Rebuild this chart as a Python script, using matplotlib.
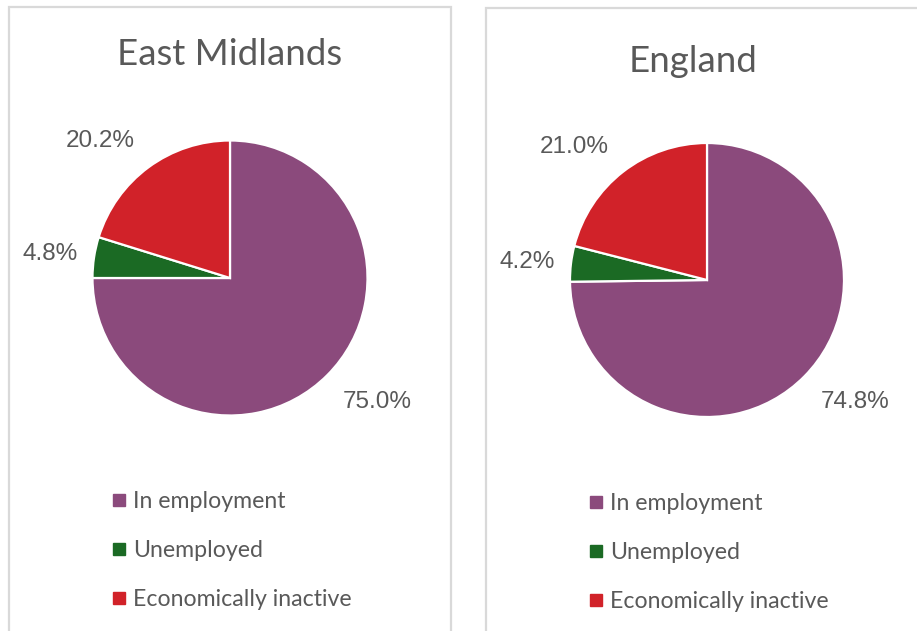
import matplotlib
matplotlib.use('Agg')
import numpy as np
import matplotlib.pyplot as plt
from matplotlib.lines import Line2D
from matplotlib.patches import Rectangle

# Labour market status shares (%)
categories = ['In employment', 'Unemployed', 'Economically inactive']
regions = ['East Midlands', 'England']
east_midlands = [75.0, 4.8, 20.2]
england = [74.8, 4.2, 21.0]
colors = ['#8B4A7C', '#1B6A24', '#D12229']

W, H = 917, 631
TEXT_GREY = '#595959'


def fx(x):
    return x / W


def fy(y):
    return 1 - y / H


def pie_axes(fig, cx, cy, r):
    ax = fig.add_axes([fx(cx - r), fy(cy + r), 2 * r / W, 2 * r / H])
    return ax


def draw_panel(fig, values, title, cx, cy, r, title_x, title_y, leg_x, leg_y):
    ax = pie_axes(fig, cx, cy, r)
    wedges, _ = ax.pie(values, colors=colors, startangle=90, counterclock=False,
                       radius=1, wedgeprops=dict(edgecolor='white', linewidth=1.6))
    ax.set_xlim(-1, 1)
    ax.set_ylim(-1, 1)
    ax.set_aspect('equal')

    # data labels placed outside each slice (best-fit style nudges)
    nudges = [5, 1, 7]
    dists = [1.40, 1.32, 1.37]
    for w, v, da, d in zip(wedges, values, nudges, dists):
        ang = np.deg2rad((w.theta1 + w.theta2) / 2 + da)
        ax.text(d * np.cos(ang), d * np.sin(ang), f'{v:.1f}%',
                ha='center', va='center', fontsize=17.5, color=TEXT_GREY,
                family='Liberation Sans', clip_on=False)

    fig.text(fx(title_x), fy(title_y), title, ha='center', va='baseline',
             fontsize=26.4, color=TEXT_GREY, family='Lato')

    handles = [Line2D([], [], marker='s', linestyle='none', markersize=8.5,
                      markerfacecolor=c, markeredgecolor=c) for c in colors]
    ax.legend(handles, categories, loc='upper left',
              bbox_to_anchor=(fx(leg_x), fy(leg_y)), bbox_transform=fig.transFigure,
              frameon=False, borderpad=0, borderaxespad=0,
              handlelength=0.63, handletextpad=0.27, labelspacing=1.2,
              prop=dict(family='Lato', size=16.7), labelcolor=TEXT_GREY)


fig = plt.figure(figsize=(W / 100, H / 100), dpi=100, facecolor='white')

# panel borders
fig.patches.append(Rectangle((fx(9), fy(640)), (451 - 9) / W, (640 - 7) / H,
                             transform=fig.transFigure, fill=False,
                             edgecolor='#d9d9d9', linewidth=1.6))
fig.patches.append(Rectangle((fx(486), fy(640)), (930 - 486) / W, (640 - 8) / H,
                             transform=fig.transFigure, fill=False,
                             edgecolor='#d9d9d9', linewidth=1.6))

draw_panel(fig, east_midlands, regions[0], 230, 278, 137.5, 230, 65, 112, 491)
draw_panel(fig, england, regions[1], 707, 280, 137, 693, 72, 589, 493)

fig.savefig('out.png', dpi=100, facecolor='white')
